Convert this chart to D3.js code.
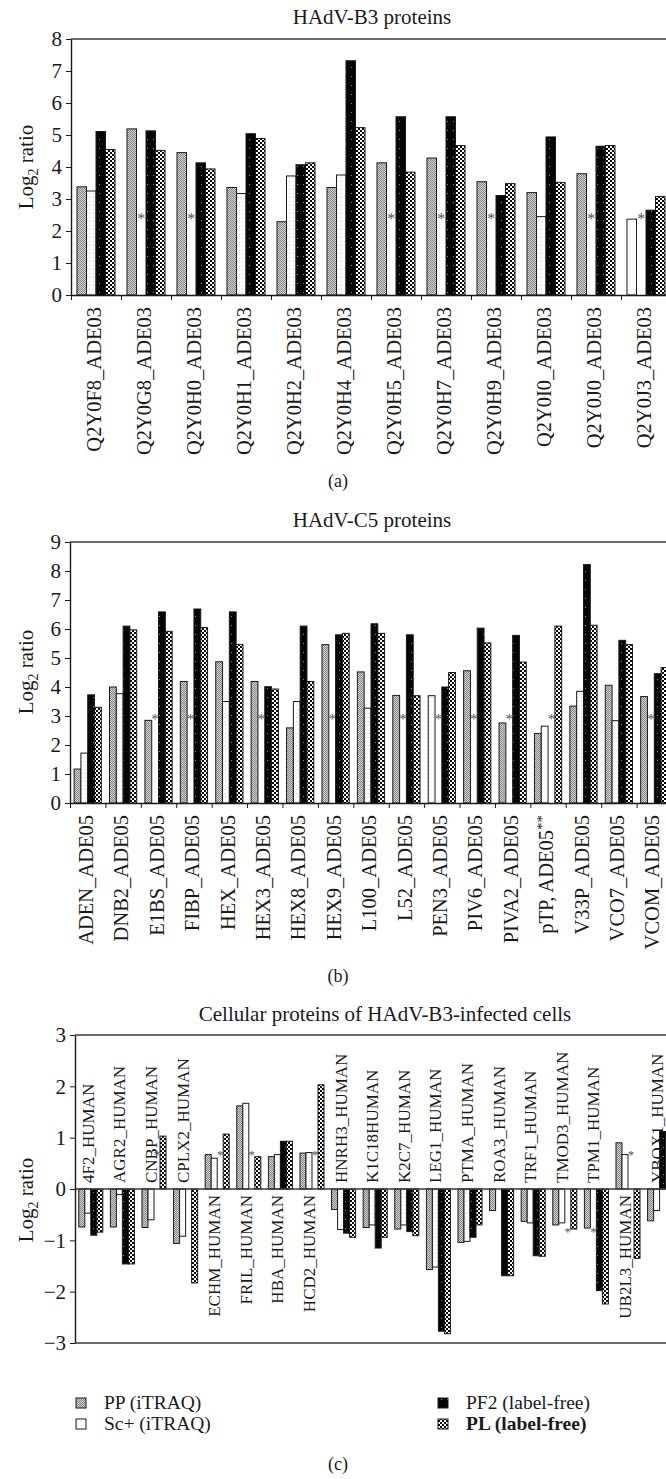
<!DOCTYPE html>
<html>
<head>
<meta charset="utf-8">
<script src="https://cdn.jsdelivr.net/npm/d3@7"></script>
<style>
  body { margin: 0; background: #fff; }
  svg text { font-family: 'Liberation Serif', 'Times New Roman', serif; fill: #1a1a1a; }
</style>
</head>
<body>
<script>
// Log2 ratios of HAdV-B3 / HAdV-C5 / cellular proteins, four fractions each.
// null = no value for that fraction (marked with an asterisk in the figure).

const seriesNames = ['PP (iTRAQ)', 'Sc+ (iTRAQ)', 'PF2 (label-free)', 'PL (label-free)'];

// (a) HAdV-B3 proteins
const b3Proteins = ['Q2Y0F8_ADE03', 'Q2Y0G8_ADE03', 'Q2Y0H0_ADE03', 'Q2Y0H1_ADE03', 'Q2Y0H2_ADE03', 'Q2Y0H4_ADE03',
  'Q2Y0H5_ADE03', 'Q2Y0H7_ADE03', 'Q2Y0H9_ADE03', 'Q2Y0I0_ADE03', 'Q2Y0J0_ADE03', 'Q2Y0J3_ADE03'];
const b3PP  = [3.38, 5.19, 4.45, 3.36, 2.29, 3.36, 4.13, 4.28, 3.54, 3.20, 3.79, 2.37];
const b3Sc  = [3.25, null, null, 3.17, 3.72, 3.75, null, null, null, 2.45, null, null];
const b3PF2 = [5.11, 5.13, 4.13, 5.04, 4.07, 7.32, 5.57, 5.57, 3.11, 4.94, 4.65, 2.65];
const b3PL  = [4.55, 4.52, 3.94, 4.89, 4.13, 5.23, 3.84, 4.67, 3.48, 3.52, 4.67, 3.08];
const b3OpenPP = ['Q2Y0J3_ADE03'];   // PP bar drawn unfilled in the original
const b3StarLevel = 2.5;

// (b) HAdV-C5 proteins
const c5Proteins = ['ADEN_ADE05', 'DNB2_ADE05', 'E1BS_ADE05', 'FIBP_ADE05', 'HEX_ADE05', 'HEX3_ADE05', 'HEX8_ADE05',
  'HEX9_ADE05', 'L100_ADE05', 'L52_ADE05', 'PEN3_ADE05', 'PIV6_ADE05', 'PIVA2_ADE05', 'pTP, ADE05**',
  'V33P_ADE05', 'VCO7_ADE05', 'VCOM_ADE05'];
const c5PP  = [1.17, 4.00, 2.85, 4.19, 4.87, 4.19, 2.59, 5.46, 4.52, 3.71, 3.70, 4.56, 2.76, 2.40, 3.34, 4.06, 3.67];
const c5Sc  = [1.72, 3.77, null, null, 3.50, null, 3.50, null, 3.27, null, null, null, null, 2.65, 3.85, 2.84, null];
const c5PF2 = [3.73, 6.10, 6.59, 6.69, 6.59, 4.01, 6.10, 5.80, 6.18, 5.80, 4.00, 6.03, 5.78, null, 8.22, 5.61, 4.46];
const c5PL  = [3.30, 5.97, 5.92, 6.05, 5.47, 3.93, 4.19, 5.85, 5.85, 3.70, 4.50, 5.52, 4.86, 6.10, 6.13, 5.46, 4.67];
const c5OpenPP = ['PEN3_ADE05'];
const c5StarLevel = 3.0;

// (c) cellular proteins of HAdV-B3-infected cells
const cellProteins = ['4F2_HUMAN', 'AGR2_HUMAN', 'CNBP_HUMAN', 'CPLX2_HUMAN', 'ECHM_HUMAN', 'FRIL_HUMAN', 'HBA_HUMAN',
  'HCD2_HUMAN', 'HNRH3_HUMAN', 'K1C18HUMAN', 'K2C7_HUMAN', 'LEG1_HUMAN', 'PTMA_HUMAN', 'ROA3_HUMAN',
  'TRF1_HUMAN', 'TMOD3_HUMAN', 'TPM1_HUMAN', 'UB2L3_HUMAN', 'YBOX1_HUMAN'];
const cellPP  = [-0.74, -0.74, -0.75, -1.06, 0.67, 1.62, 0.63, 0.70, -0.40, -0.75, -0.78, -1.57, -1.04, -0.42, -0.63, -0.70, -0.76, 0.90, -0.62];
const cellSc  = [-0.47, -0.11, -0.60, -0.92, 0.60, 1.67, 0.67, 0.71, -0.79, -0.70, -0.70, -1.52, -1.02, null, -0.66, -0.66, null, 0.67, -0.42];
const cellPF2 = [-0.90, -1.46, null, null, null, null, 0.93, null, -0.86, -1.15, -0.83, -2.77, -0.94, -1.69, -1.30, null, -1.98, null, 1.12];
const cellPL  = [-0.84, -1.46, 1.03, -1.83, 1.07, 0.63, 0.93, 2.03, -0.94, -0.94, -0.91, -2.82, -0.70, -1.69, -1.31, -0.78, -2.24, -1.35, null];
// asterisks: [protein, series index, level]
const cellStars = [['CNBP_HUMAN', 2, 0.72], ['ECHM_HUMAN', 2, 0.72], ['FRIL_HUMAN', 2, 0.72], ['HCD2_HUMAN', 2, 0.72],
  ['TMOD3_HUMAN', 2, -0.78], ['TPM1_HUMAN', 1, -0.78], ['UB2L3_HUMAN', 2, 0.72]];

(function() {
  const width = 666;
  const height = 1479;

  const svg = d3.select('body').append('svg')
    .attr('width', width)
    .attr('height', height);

  // bar fills: small tiles imitating the print hatching
  const defs = svg.append('defs');
  function pattern(id, w, h, bg, cells) {
    const p = defs.append('pattern')
      .attr('id', id)
      .attr('patternUnits', 'userSpaceOnUse')
      .attr('width', w)
      .attr('height', h);
    p.append('rect').attr('width', w).attr('height', h).attr('fill', bg);
    cells.forEach(c => p.append('rect')
      .attr('x', c[0]).attr('y', c[1]).attr('width', c[2]).attr('height', c[3]).attr('fill', c[4]));
  }
  pattern('pp', 2, 2, '#d2d2d2', [[0, 0, 1, 1, '#858585'], [1, 1, 1, 1, '#858585']]);
  pattern('sc', 4, 4, '#ffffff', [[1, 1, 1, 1, '#d4d4d4']]);
  pattern('pf2', 6, 9, '#050505', [[3, 4, 1, 1, '#8a8a8a']]);
  pattern('pl', 4, 4, '#050505', [[0, 0, 2, 2, '#ffffff'], [2, 2, 2, 2, '#ffffff']]);
  const fills = ['url(#pp)', 'url(#sc)', 'url(#pf2)', 'url(#pl)'];

  const minus = d => d < 0 ? '\u2212' + Math.abs(d) : String(d);

  function drawPanel(p) {
    const n = p.names.length;
    const x = d3.scaleBand().domain(p.names).range(p.xRange);
    const slot = d3.scaleBand().domain(d3.range(4)).range([0, x.bandwidth()]).paddingOuter(p.outer);
    const y = d3.scaleLinear().domain(p.yDomain).range(p.yRange);
    const zero = y(0);
    const g = svg.append('g');

    g.append('text')
      .attr('x', p.titleX)
      .attr('y', p.titleY)
      .attr('text-anchor', 'middle')
      .style('font-size', '21px')
      .text(p.title);

    // top frame line (and bottom one when the axis goes negative)
    [p.yDomain[1], p.yDomain[0]].forEach(v => {
      if (v === 0) return;
      g.append('line')
        .attr('x1', p.xRange[0]).attr('x2', width)
        .attr('y1', y(v)).attr('y2', y(v))
        .attr('stroke', '#3a3a3a')
        .attr('stroke-width', 1.4);
    });

    // bars
    p.names.forEach((name, i) => {
      p.series.forEach((vals, j) => {
        const v = vals[i];
        if (v == null) return;
        const open = j === 0 && p.openPP.includes(name);
        g.append('rect')
          .attr('x', x(name) + slot(j))
          .attr('y', Math.min(y(v), zero))
          .attr('width', slot.bandwidth())
          .attr('height', Math.abs(y(v) - zero))
          .attr('fill', open ? fills[1] : fills[j])
          .attr('stroke', '#1a1a1a')
          .attr('stroke-width', 1);
      });
    });

    // asterisks for missing values
    p.stars.forEach(s => {
      g.append('text')
        .attr('x', x(s[0]) + slot(s[1]) + slot.bandwidth() / 2)
        .attr('y', y(s[2]) + p.starSize * 0.55)
        .attr('text-anchor', 'middle')
        .style('font-size', p.starSize + 'px')
        .style('fill', '#555')
        .text('*');
    });

    // x axis: ticks between groups, or a bare zero line
    if (p.groupTicks) {
      const xi = d3.scaleLinear().domain([0, n]).range(p.xRange);
      g.append('g')
        .attr('transform', `translate(0,${zero})`)
        .attr('color', '#1a1a1a')
        .call(d3.axisBottom(xi).tickValues(d3.range(n + 1)).tickSize(5).tickSizeOuter(0).tickFormat(''))
        .select('.domain').attr('stroke-width', 1.4);
    } else {
      g.append('line')
        .attr('x1', p.xRange[0]).attr('x2', width)
        .attr('y1', zero).attr('y2', zero)
        .attr('stroke', '#3a3a3a')
        .attr('stroke-width', 1.4);
    }

    // y axis
    const yAxis = g.append('g')
      .attr('transform', `translate(${p.xRange[0]},0)`)
      .attr('color', '#1a1a1a')
      .call(d3.axisLeft(y)
        .tickValues(d3.range(p.yDomain[0], p.yDomain[1] + 1))
        .tickSize(5)
        .tickSizeOuter(0)
        .tickPadding(4)
        .tickFormat(minus));
    yAxis.attr('font-size', 21);
    yAxis.select('.domain').attr('stroke-width', 1.4);

    const yl = g.append('text')
      .attr('transform', `translate(33,${p.yLabelY}) rotate(-90)`)
      .attr('text-anchor', 'middle')
      .style('font-size', '21px');
    yl.append('tspan').text('Log');
    yl.append('tspan').attr('dy', 5).style('font-size', '14px').text('2');
    yl.append('tspan').attr('dy', -5).text(' ratio');

    // category labels, rotated
    g.selectAll('.cat')
      .data(p.names)
      .enter().append('text')
      .attr('class', 'cat')
      .attr('transform', (d, i) => {
        const below = p.labelBelow(i);
        const cx = x(d) + x.bandwidth() / 2 + p.labelDx;
        const ly = below ? zero + p.labelGap : zero - p.labelGap;
        return `translate(${cx},${ly}) rotate(-90)`;
      })
      .attr('text-anchor', (d, i) => p.labelBelow(i) ? 'end' : 'start')
      .attr('dy', '0.35em')
      .style('font-size', p.labelSize + 'px')
      .each(function(d) {
        const m = d.match(/^(.*?)(\*+)$/);
        const t = d3.select(this);
        if (!m) { t.text(d); return; }
        t.append('tspan').text(m[1]);
        t.append('tspan').attr('dy', '-0.4em').style('font-size', '15px').text(m[2]);
      });

    svg.append('text')
      .attr('x', 338)
      .attr('y', p.captionY)
      .attr('text-anchor', 'middle')
      .style('font-size', '18px')
      .text(p.caption);
  }

  function nullStars(names, series, level) {
    const out = [];
    names.forEach((name, i) => series.forEach((vals, j) => {
      if (vals[i] == null) out.push([name, j, level]);
    }));
    return out;
  }

  const b3Series = [b3PP, b3Sc, b3PF2, b3PL];
  drawPanel({
    names: b3Proteins, series: b3Series, openPP: b3OpenPP,
    stars: nullStars(b3Proteins, b3Series, b3StarLevel), starSize: 16,
    xRange: [71, 671], outer: 0.63, yDomain: [0, 8], yRange: [295, 39],
    title: 'HAdV-B3 proteins', titleX: 372, titleY: 24, yLabelY: 167,
    groupTicks: true, labelBelow: () => true, labelGap: 12, labelDx: -2, labelSize: 20.5,
    caption: '(a)', captionY: 487
  });

  const c5Series = [c5PP, c5Sc, c5PF2, c5PL];
  drawPanel({
    names: c5Proteins, series: c5Series, openPP: c5OpenPP,
    stars: nullStars(c5Proteins, c5Series, c5StarLevel), starSize: 15,
    xRange: [70, 672], outer: 0.6, yDomain: [0, 9], yRange: [803, 542],
    title: 'HAdV-C5 proteins', titleX: 372, titleY: 527, yLabelY: 672,
    groupTicks: true, labelBelow: () => true, labelGap: 12, labelDx: -2, labelSize: 20.5,
    caption: '(b)', captionY: 982
  });

  drawPanel({
    names: cellProteins, series: [cellPP, cellSc, cellPF2, cellPL], openPP: [],
    stars: cellStars, starSize: 13,
    xRange: [75, 675.4], outer: 0.63, yDomain: [-3, 3], yRange: [1343, 1035],
    title: 'Cellular proteins of HAdV-B3-infected cells', titleX: 385, titleY: 1021, yLabelY: 1200,
    groupTicks: false, labelBelow: i => cellPP[i] >= 0, labelGap: 6, labelDx: -3, labelSize: 17,
    caption: '(c)', captionY: 1470
  });

  // legend, two columns
  const legend = svg.append('g');
  seriesNames.forEach((name, i) => {
    const lx = i < 2 ? 76 : 438;
    const ly = i % 2 === 0 ? 1403 : 1424;
    legend.append('rect')
      .attr('x', lx).attr('y', ly - 5)
      .attr('width', 10).attr('height', 10)
      .attr('fill', fills[i])
      .attr('stroke', '#1a1a1a');
    legend.append('text')
      .attr('x', lx + 28).attr('y', ly + 6)
      .style('font-size', '19.5px')
      .style('font-weight', i === 3 ? 700 : 400)
      .text(name);
  });
})();
</script>
</body>
</html>
